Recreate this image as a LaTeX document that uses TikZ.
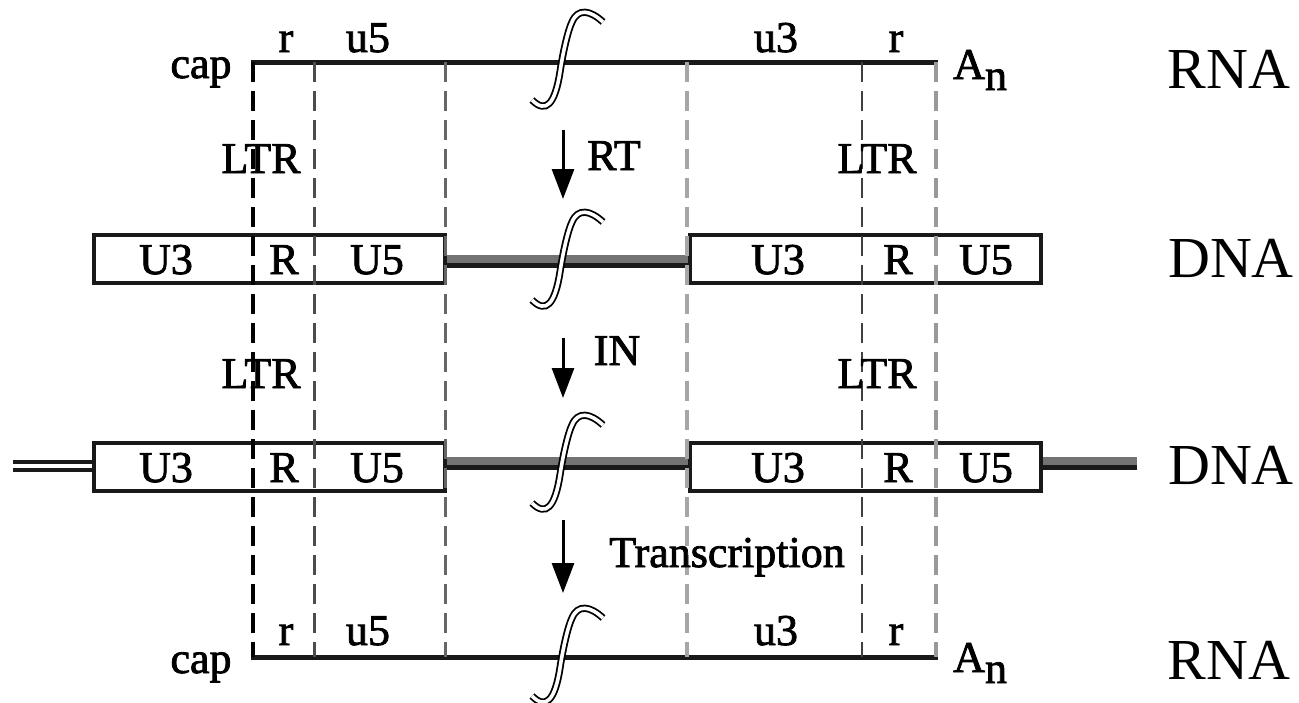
\documentclass[tikz,border=0pt]{standalone}
\usepackage{fontspec}
\setmainfont{Liberation Serif}
\newfontfamily\labelfont{Liberation Serif}[FakeBold=1.8]
\usetikzlibrary{arrows.meta}

% break mark across a strand: a slanted, hollow S stroke
\newcommand\gapmark[1]{%
  \draw[brkline, shift={(#1)}] (-30,40) .. controls (-16,54) and (-7,44) .. (-2,12)
    .. controls (1,-8) and (6,-30) .. (10,-38) .. controls (16,-52) and (28,-50) .. (41,-38);}

\begin{document}
\begin{tikzpicture}[x=1pt, y=-1pt,
  lbl/.style={inner sep=0pt, anchor=base, font=\labelfont\fontsize{44}{50}\selectfont},
  big/.style={inner sep=0pt, anchor=base, font=\fontsize{58}{66}\selectfont},
  rnaline/.style={line width=5pt, black!90},
  ltrbox/.style={draw=black!90, line width=4pt, inner sep=0pt, minimum width=351pt, minimum height=48pt},
  guide/.style={dash pattern=on 20pt off 9pt},
  flow/.style={line width=3pt, -{Triangle[length=30pt,width=22pt]}},
  brkline/.style={line width=1.8pt, draw=black, double=white, double distance=3.6pt},
  strandA/.style={line width=8pt, black!55},
  strandB/.style={line width=5pt, black!90},
  strandC/.style={line width=3.5pt, black!90},
]
\path[use as bounding box] (0,0) rectangle (1299,702);

% ---------- LTR boxes ----------
\node[ltrbox] (L1) at (269.5,258.5) {};
\node[ltrbox] (R1) at (865.5,258.5) {};
\node[ltrbox] (L2) at (269.5,467) {};
\node[ltrbox] (R2) at (865.5,467) {};

% ---------- DNA strands ----------
\draw[strandA] ([yshift=-0.5pt]L1.east) -- ([yshift=-0.5pt]R1.west);
\draw[strandB] ([yshift=-7pt]L1.east) -- ([yshift=-7pt]R1.west);
\draw[strandA] ([yshift=6pt]L2.east) -- ([yshift=6pt]R2.west);
\draw[strandB] ([yshift=-0.5pt]L2.east) -- ([yshift=-0.5pt]R2.west);
\coordinate (hostL) at (13,467);
\coordinate (hostR) at (1137,467);
\draw[strandC] ([yshift=5pt]hostL) -- ([yshift=5pt]hostL -| L2.west);
\draw[strandC] ([yshift=-3pt]hostL) -- ([yshift=-3pt]hostL -| L2.west);
\draw[strandA] ([yshift=6pt]R2.east) -- ([yshift=6pt]hostR);
\draw[strandB] ([yshift=-0.5pt]R2.east) -- ([yshift=-0.5pt]hostR);

% ---------- RNA lines ----------
\coordinate (t0) at (251,62.5);
\coordinate (t1) at (938,62.5);
\coordinate (b0) at (251,657);
\coordinate (b1) at (938,657);
\draw[rnaline] (t0) -- (t1);
\draw[rnaline] (b0) -- (b1);

% ---------- region boundaries ----------
\foreach \gx/\gcol/\glw [count=\gi] in
  {253/black/3.5, 314/black!70/3, 445/black!60/3, 687/black!35/4, 862/black!75/2, 936/black!40/3.5}{
  \coordinate (gt\gi) at (\gx,62);
  \coordinate (gb\gi) at (\gx,657);
  \draw[guide, draw=\gcol, line width=\glw pt] (gt\gi) -- (gb\gi);
}

% ---------- top RNA labels ----------
\node[lbl] (tr1) at (286,52) {r};
\node[lbl] (tu5) at (368,52) {u5};
\node[lbl] (tu3) at (776,52) {u3};
\node[lbl] (tr2) at (896,52) {r};
\node[lbl] (tcap) at (201,78) {cap};
\node[lbl, anchor=base west] (tan) at (953,79) {A\raisebox{-11pt}{n}};
\node[big] (trna) at (1229,88) {RNA};

% ---------- LTR labels ----------
\node[lbl] (ltr1) at (261,173) {LTR};
\node[lbl] (ltr2) at (877,173) {LTR};
\node[lbl] (ltr3) at (261,388) {LTR};
\node[lbl] (ltr4) at (877,388) {LTR};

% ---------- box contents ----------
\foreach \ry/\rn in {274/a, 482/b}{
  \node[lbl] (u3l\rn) at (166,\ry) {U3};
  \node[lbl] (rl\rn)  at (284,\ry) {R};
  \node[lbl] (u5l\rn) at (377,\ry) {U5};
  \node[lbl] (u3r\rn) at (778,\ry) {U3};
  \node[lbl] (rr\rn)  at (898,\ry) {R};
  \node[lbl] (u5r\rn) at (986,\ry) {U5};
}
\node[big] (dna1) at (1231,277) {DNA};
\node[big] (dna2) at (1231,484) {DNA};

% ---------- bottom RNA labels ----------
\node[lbl] (br1) at (286,645) {r};
\node[lbl] (bu5) at (368,645) {u5};
\node[lbl] (bu3) at (776,645) {u3};
\node[lbl] (br2) at (896,645) {r};
\node[lbl] (bcap) at (201,673) {cap};
\node[lbl, anchor=base west] (ban) at (953,672) {A\raisebox{-11pt}{n}};
\node[big] (brna) at (1229,679) {RNA};

% ---------- process steps ----------
\coordinate (rtA) at (563,130);
\coordinate (rtB) at (563,199);
\coordinate (inA) at (563,338);
\coordinate (inB) at (563,398);
\coordinate (trA) at (563,520);
\coordinate (trB) at (563,593);
\draw[flow] (rtA) -- (rtB);
\draw[flow] (inA) -- (inB);
\draw[flow] (trA) -- (trB);
\node[lbl] (rt) at (614,170) {RT};
\node[lbl] (in) at (617,365) {IN};
\node[lbl] (tx) at (727,567) {Transcription};

% ---------- break marks ----------
\coordinate (k1) at (562,60);
\coordinate (k2) at (562,260);
\coordinate (k3) at (562,463);
\coordinate (k4) at (562,656);
\gapmark{k1}
\gapmark{k2}
\gapmark{k3}
\gapmark{k4}
\end{tikzpicture}
\end{document}
